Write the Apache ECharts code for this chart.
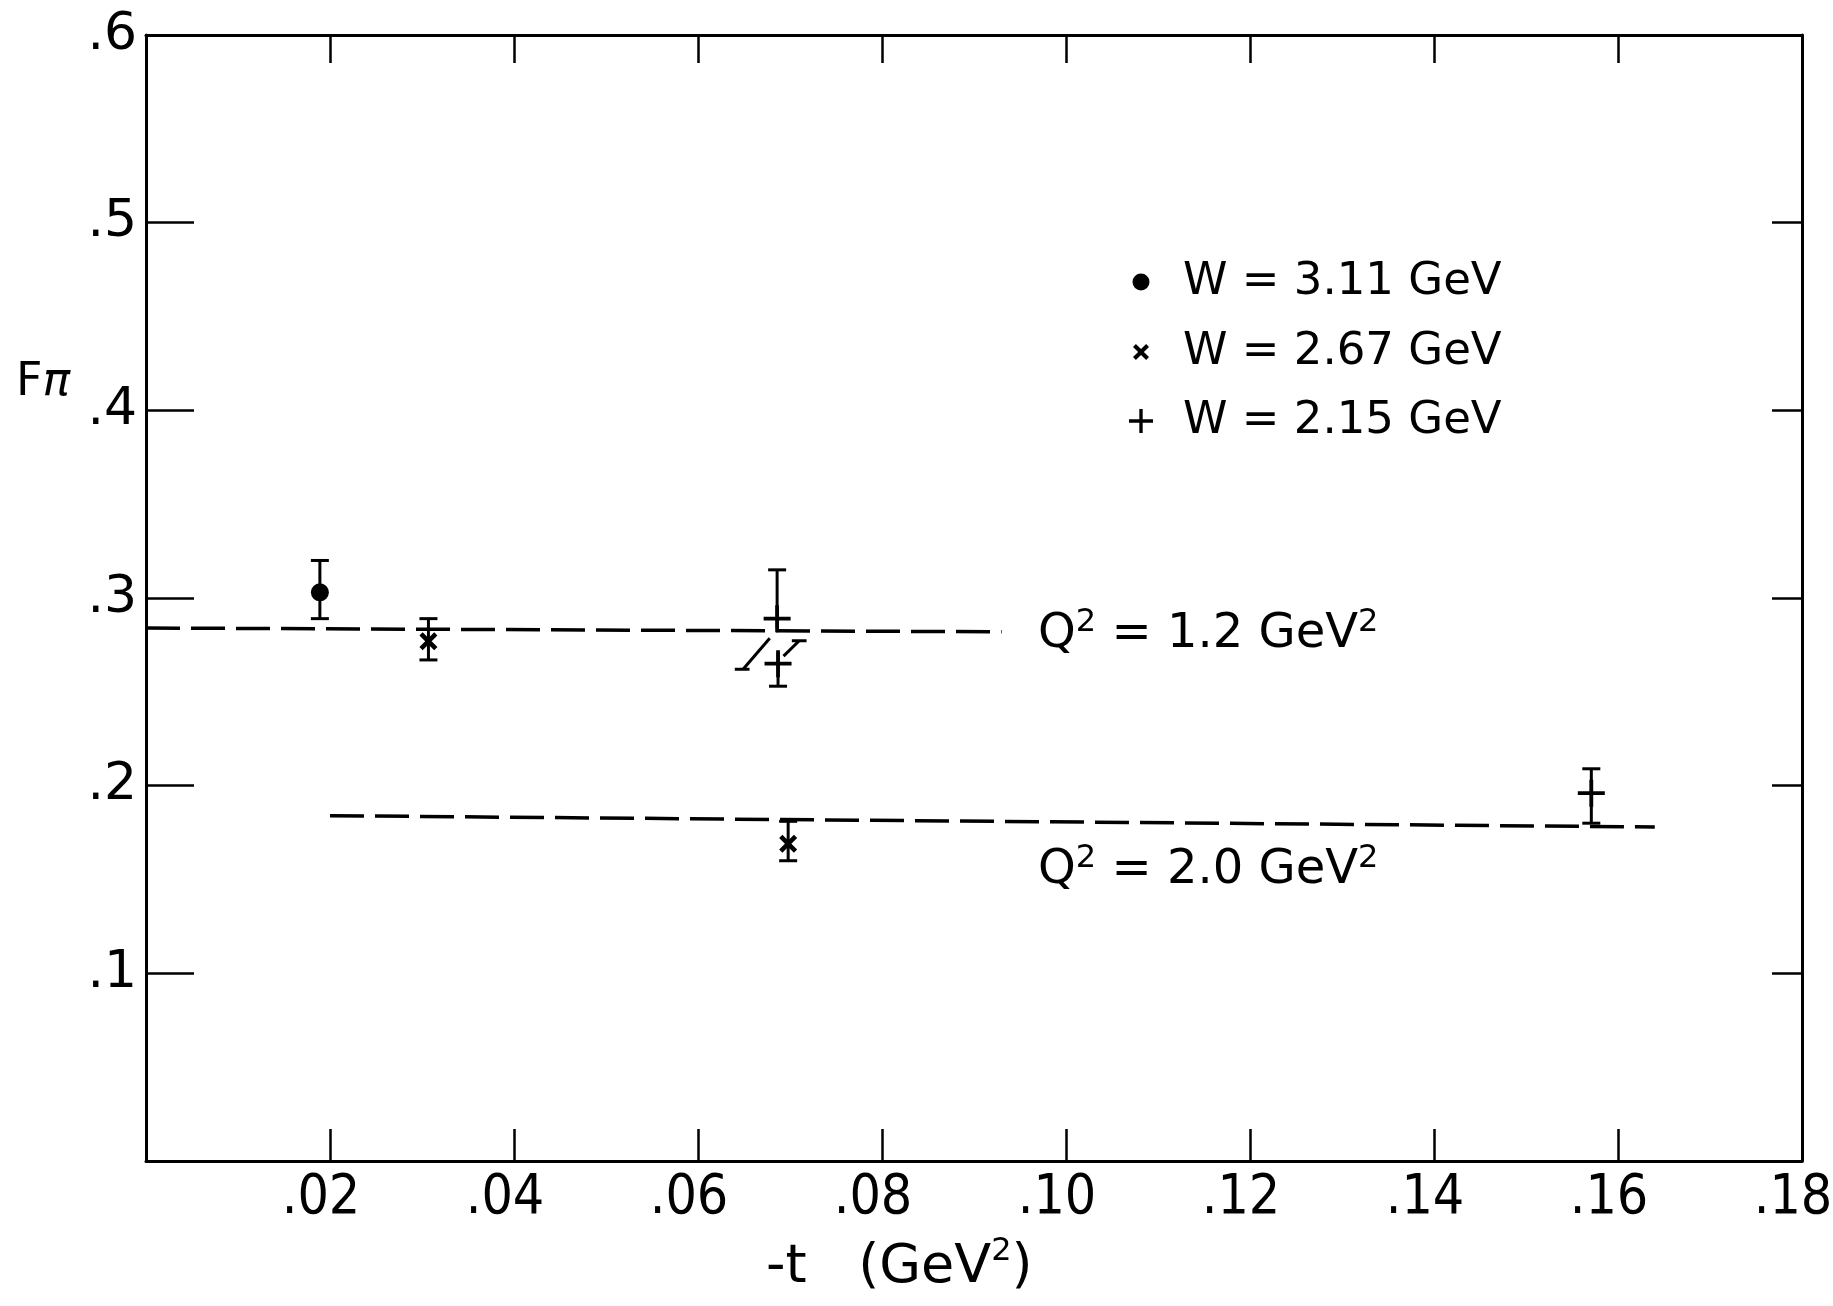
<!DOCTYPE html>
<html><head><meta charset="utf-8">
<script src="https://cdn.jsdelivr.net/npm/echarts@6/dist/echarts.min.js"></script>
<style>html,body{margin:0;padding:0;background:#fff}#c{width:1833px;height:1306px}</style>
</head><body><div id="c"></div>
<script>
// ---- data ----
const xTickLabels = ['', '.02', '.04', '.06', '.08', '.10', '.12', '.14', '.16', '.18'];
const yTickLabels = ['', '.1', '.2', '.3', '.4', '.5', '.6'];
const seriesNames = ['W = 3.11 GeV', 'W = 2.67 GeV', 'W = 2.15 GeV'];

const tW311 = [0.0189];
const fW311 = [0.303];
const loW311 = [0.289];
const hiW311 = [0.320];

const tW267 = [0.0307, 0.0698];
const fW267 = [0.277, 0.169];
const loW267 = [0.267, 0.160];
const hiW267 = [0.289, 0.181];

const tW215 = [0.0686, 0.0687, 0.1571];
const fW215 = [0.289, 0.265, 0.196];
const loW215 = [0.284, 0.253, 0.180];
const hiW215 = [0.315, 0.271, 0.209];
const capLoW215 = [0, 1, 1];
const capHiW215 = [1, 0, 1];

const q12T = [0.0, 0.093];
const q12F = [0.284, 0.282];
const q20T = [0.020, 0.164];
const q20F = [0.184, 0.178];

const breakMarks = [
  [[0.0640, 0.262], [0.0656, 0.262]],
  [[0.0649, 0.262], [0.0678, 0.2785]],
  [[0.0693, 0.269], [0.0710, 0.2772]],
  [[0.0702, 0.2772], [0.0718, 0.2772]]
];

// ---- helpers ----
const FONT = 'DejaVu Sans';
const NARROW = '"Liberation Sans Narrow", "DejaVu Sans Condensed", sans-serif';
function pts(t, f) { return t.map((v, i) => [v, f[i]]); }
function bars(t, f, lo, hi, cl, chh) {
  return t.map((v, i) => [v, f[i], lo[i], hi[i], cl ? cl[i] : 1, chh ? chh[i] : 1]);
}
function errRender(params, api) {
  const x = api.value(0), lo = api.value(2), hi = api.value(3);
  const cl = api.value(4), cH = api.value(5);
  const a = api.coord([x, lo]), b = api.coord([x, hi]);
  const w = 9;
  const st = { stroke: '#000', lineWidth: 3 };
  const kids = [{ type: 'line', shape: { x1: a[0], y1: a[1], x2: b[0], y2: b[1] }, style: st }];
  if (cl) kids.push({ type: 'line', shape: { x1: a[0] - w, y1: a[1], x2: a[0] + w, y2: a[1] }, style: st });
  if (cH) kids.push({ type: 'line', shape: { x1: b[0] - w, y1: b[1], x2: b[0] + w, y2: b[1] }, style: st });
  return { type: 'group', children: kids };
}
const X_PATH = 'path://M0,1.8L1.8,0L5,3.2L8.2,0L10,1.8L6.8,5L10,8.2L8.2,10L5,6.8L1.8,10L0,8.2L3.2,5Z';
const PLUS_PATH = 'path://M8.6,0h2.8v8.6h8.6v2.8h-8.6v8.6h-2.8v-8.6h-8.6v-2.8h8.6z';

const supRich = { sup: { fontSize: 32, lineHeight: 26, verticalAlign: 'top', fontFamily: FONT, fill: '#000', color: '#000' } };

function legendRow(name, centerY, size) {
  return {
    data: [name], orient: 'horizontal', left: 1136 - size / 2, top: centerY - 25,
    itemWidth: size, itemHeight: size, selectedMode: false,
    textStyle: { fontSize: 45, lineHeight: 50, fontFamily: FONT, color: '#000', padding: [0, 0, 0, 42 - size / 2 - 5] }
  };
}

const axisLineStyle = { color: '#000', width: 3 };
const tickStyle = { color: '#000', width: 2.5 };

const option = {
  animation: false,
  backgroundColor: '#fff',
  grid: { left: 146, right: 31, top: 35, bottom: 145, outerBoundsMode: 'none', containLabel: false },
  legend: [
    legendRow(seriesNames[0], 277, 17),
    legendRow(seriesNames[1], 347, 16),
    legendRow(seriesNames[2], 416, 24)
  ],
  xAxis: [{
    type: 'value', min: 0, max: 0.18, interval: 0.02, position: 'bottom',
    axisLine: { show: true, onZero: false, lineStyle: axisLineStyle },
    axisTick: { show: true, inside: true, length: 32, lineStyle: tickStyle },
    splitLine: { show: false },
    axisLabel: {
      showMinLabel: false, margin: 10, fontSize: 55, fontFamily: NARROW, color: '#000',
      padding: [0, 18, 0, 0],
      formatter: v => xTickLabels[Math.round(v / 0.02)]
    }
  }, {
    type: 'value', min: 0, max: 0.18, interval: 0.02, position: 'top',
    axisLine: { show: true, onZero: false, lineStyle: axisLineStyle },
    axisTick: { show: true, inside: true, length: 28, lineStyle: tickStyle },
    splitLine: { show: false }, axisLabel: { show: false }
  }],
  yAxis: [{
    type: 'value', min: 0, max: 0.6, interval: 0.1, position: 'left',
    axisLine: { show: true, onZero: false, lineStyle: axisLineStyle },
    axisTick: { show: true, inside: true, length: 48, lineStyle: tickStyle },
    splitLine: { show: false },
    axisLabel: {
      showMinLabel: false, margin: 9, fontSize: 52, fontFamily: FONT, color: '#000',
      formatter: v => yTickLabels[Math.round(v / 0.1)]
    }
  }, {
    type: 'value', min: 0, max: 0.6, interval: 0.1, position: 'right',
    axisLine: { show: true, onZero: false, lineStyle: axisLineStyle },
    axisTick: { show: true, inside: true, length: 30, lineStyle: tickStyle },
    splitLine: { show: false }, axisLabel: { show: false }
  }],
  series: [
    { name: seriesNames[0], type: 'scatter', data: pts(tW311, fW311), symbol: 'circle', symbolSize: 18,
      itemStyle: { color: '#000', opacity: 1 }, z: 5 },
    { name: seriesNames[1], type: 'scatter', data: pts(tW267, fW267), symbol: X_PATH, symbolSize: 18,
      itemStyle: { color: '#000', opacity: 1 }, z: 5 },
    { name: seriesNames[2], type: 'scatter', data: pts(tW215, fW215), symbol: PLUS_PATH, symbolSize: 27,
      itemStyle: { color: '#000', opacity: 1 }, z: 5 },
    { name: 'err311', type: 'custom', renderItem: errRender, data: bars(tW311, fW311, loW311, hiW311), z: 4 },
    { name: 'err267', type: 'custom', renderItem: errRender, data: bars(tW267, fW267, loW267, hiW267), z: 4 },
    { name: 'err215', type: 'custom', renderItem: errRender, data: bars(tW215, fW215, loW215, hiW215, capLoW215, capHiW215), z: 4 },
    { name: 'Q2=1.2', type: 'line', data: pts(q12T, q12F), symbol: 'none', silent: true,
      lineStyle: { color: '#000', width: 3.5, type: [34, 11] }, z: 3 },
    { name: 'Q2=2.0', type: 'line', data: pts(q20T, q20F), symbol: 'none', silent: true,
      lineStyle: { color: '#000', width: 3.5, type: [34, 11] }, z: 3 },
    { name: 'breaks', type: 'lines', coordinateSystem: 'cartesian2d', polyline: true, silent: true,
      data: breakMarks.map(c => ({ coords: c })),
      lineStyle: { color: '#000', width: 3, opacity: 1 }, z: 4 }
  ],
  graphic: [
    { type: 'text', left: 1038, top: 635 - 28, silent: true,
      style: { text: 'Q{sup|2} = 1.2 GeV{sup|2}', rich: supRich, fontSize: 48, lineHeight: 56, fontFamily: FONT, fill: '#000' } },
    { type: 'text', left: 1038, top: 871 - 28, silent: true,
      style: { text: 'Q{sup|2} = 2.0 GeV{sup|2}', rich: supRich, fontSize: 48, lineHeight: 56, fontFamily: FONT, fill: '#000' } },
    { type: 'text', left: 766, top: 1268 - 32, silent: true,
      style: { text: '-t   (GeV{sup|2})', rich: supRich, fontSize: 54, lineHeight: 64, fontFamily: FONT, fill: '#000' } },
    { type: 'text', left: 16, top: 383 - 30, silent: true,
      style: { text: 'F{pi|π}', rich: { pi: { fontSize: 46, fontStyle: 'italic', fontFamily: FONT, fill: '#000', lineHeight: 60 } },
        fontSize: 46, lineHeight: 60, fontFamily: FONT, fill: '#000' } }
  ]
};
const chart = echarts.init(document.getElementById('c'));
chart.setOption(option);
</script>
</body></html>
